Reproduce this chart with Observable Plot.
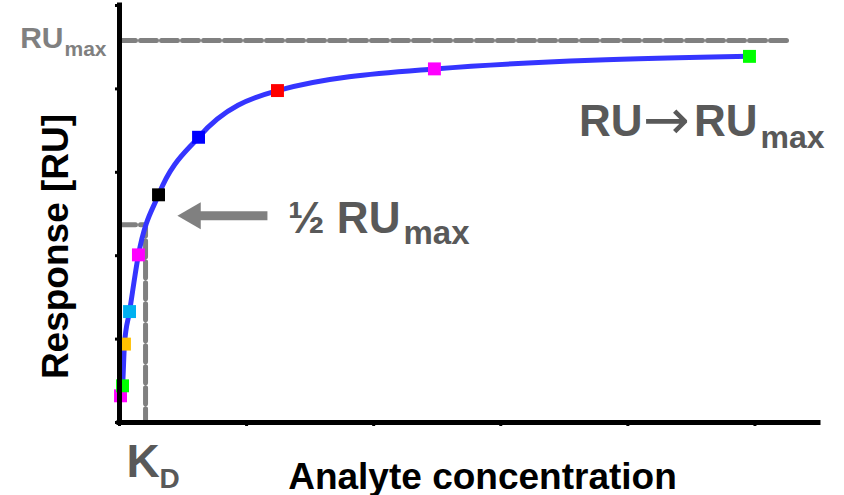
<!DOCTYPE html>
<html>
<head>
<meta charset="utf-8">
<script src="https://cdn.jsdelivr.net/npm/d3@7"></script>
<script src="https://cdn.jsdelivr.net/npm/@observablehq/plot@0.6"></script>
<style>
  html, body { margin: 0; padding: 0; background: #fff; }
</style>
</head>
<body>
<div id="chart"></div>
<script>
// ---- data ----
const concentration = [0.008, 0.024, 0.039, 0.079, 0.149, 0.307, 0.622, 1.243, 2.478, 4.957];
const response      = [0.32, 0.44, 0.94, 1.33, 2.01, 2.73, 3.42, 3.98, 4.24, 4.39];
const markerColors  = ["#ff00ff", "#00ff00", "#ffc000", "#00b0f0", "#ff00ff",
                       "#000000", "#0000ff", "#ff0000", "#ff00ff", "#00ff00"];
const xTicks = [0, 1, 2, 3, 4, 5];
const yTicks = [0, 1, 2, 3, 4, 5];
const RU_MAX = 4.58;      // dashed RUmax level
const HALF_RU = 2.37;     // dashed ½ RUmax level
const KD = 0.205;         // dashed KD position
const RU_MAX_END = 5.27;  // end of the RUmax dashed line

const points = concentration.map((c, i) => ({c, r: response[i], color: markerColors[i]}));

const FONT = "'Liberation Sans', Arial, Helvetica, sans-serif";
const GRAY = "#808080";
const DARK = "#595959";

function label(txt, x, y, opts) {
  return Plot.text([txt], {
    x: () => x, y: () => y, text: d => d,
    lineAnchor: "bottom", fontWeight: "bold", ...opts
  });
}

// arrow annotation anchors (data units)
const ARROW_TIP = 0.456, ARROW_TAIL = 1.164, ARROW_Y = 2.48;
// RU -> RUmax label anchor (data units)
const TREND_X = 5.02, TREND_Y = 3.44;

const chart = Plot.plot({
  width: 844,
  height: 495,
  marginLeft: 119,
  marginRight: 26,
  marginTop: 5,
  marginBottom: 73,
  style: {fontFamily: FONT, background: "#fff"},
  x: {domain: [0, 5.5]},
  y: {domain: [0, 5]},
  color: {type: "identity"},
  marks: [
    // RUmax dashed line
    Plot.line([{c: 0, r: RU_MAX}, {c: RU_MAX_END, r: RU_MAX}],
      {x: "c", y: "r", stroke: GRAY, strokeWidth: 5, strokeDasharray: "16,5"}),
    // ½ RUmax / KD dashed elbow
    Plot.line([{c: 0, r: HALF_RU}, {c: KD, r: HALF_RU}, {c: KD, r: 0}],
      {x: "c", y: "r", stroke: GRAY, strokeWidth: 5, strokeDasharray: "16,5"}),
    // binding curve
    Plot.line(points, {x: "c", y: "r", stroke: "#3535ff", strokeWidth: 5, curve: "monotone-x"}),
    // markers
    Plot.dot(points, {x: "c", y: "r", fill: "color", symbol: "square", r: 7.3}),
    // axes
    Plot.ruleX([0], {stroke: "black", strokeWidth: 5, strokeLinecap: "square"}),
    Plot.ruleY([0], {stroke: "black", strokeWidth: 5, strokeLinecap: "square"}),
    Plot.axisX({ticks: xTicks, tickSize: 4, tickFormat: () => "", strokeWidth: 3, stroke: "black", label: null}),
    Plot.axisY({ticks: yTicks, tickSize: 4, tickFormat: () => "", strokeWidth: 3, stroke: "black", label: null}),
    // arrow
    Plot.link([0], {x1: () => ARROW_TIP + 0.12, x2: () => ARROW_TAIL, y1: () => ARROW_Y, y2: () => ARROW_Y,
      stroke: GRAY, strokeWidth: 9}),
    Plot.dot([0], {x: () => ARROW_TIP, y: () => ARROW_Y, dx: 15.5, symbol: "triangle", rotate: -90, r: 10, fill: GRAY}),
    // axis titles
    label("Response [RU]", 0, 2.11, {dx: -52, rotate: -90, textAnchor: "middle", fontSize: 37, fill: "black"}),
    label("Analyte concentration", 2.856, 0, {dy: 66, textAnchor: "middle", fontSize: 37, fill: "black"}),
    // RUmax label
    label("RU", 0, RU_MAX, {dx: -56, dy: 7, textAnchor: "end", fontSize: 30, fill: GRAY}),
    label("max", 0, RU_MAX, {dx: -55, dy: 15, textAnchor: "start", fontSize: 21, fill: GRAY}),
    // KD label
    label("K", KD, 0, {dx: -19, dy: 54, textAnchor: "start", fontSize: 46, fill: DARK}),
    label("D", KD, 0, {dx: 14, dy: 65, textAnchor: "start", fontSize: 28, fill: DARK}),
    // ½ RUmax label
    label("½ RU", ARROW_TAIL, ARROW_Y, {dx: 133, dy: 17, textAnchor: "end", fontSize: 44, fill: DARK}),
    label("max", ARROW_TAIL, ARROW_Y, {dx: 136, dy: 28, textAnchor: "start", fontSize: 33, fill: DARK}),
    // RU -> RUmax label
    label("RU", TREND_X, TREND_Y, {dx: -115, textAnchor: "end", fontSize: 44, fill: DARK}),
    label("\u2192", TREND_X, TREND_Y, {dx: -91, dy: 3, textAnchor: "middle", fontSize: 56, fill: DARK,
      fontWeight: "normal", fontFamily: "'DejaVu Sans', sans-serif"}),
    label("RU", TREND_X, TREND_Y, {textAnchor: "end", fontSize: 44, fill: DARK}),
    label("max", TREND_X, TREND_Y, {dx: 3, dy: 12, textAnchor: "start", fontSize: 32, fill: DARK})
  ]
});

document.getElementById("chart").appendChild(chart);
</script>
</body>
</html>
